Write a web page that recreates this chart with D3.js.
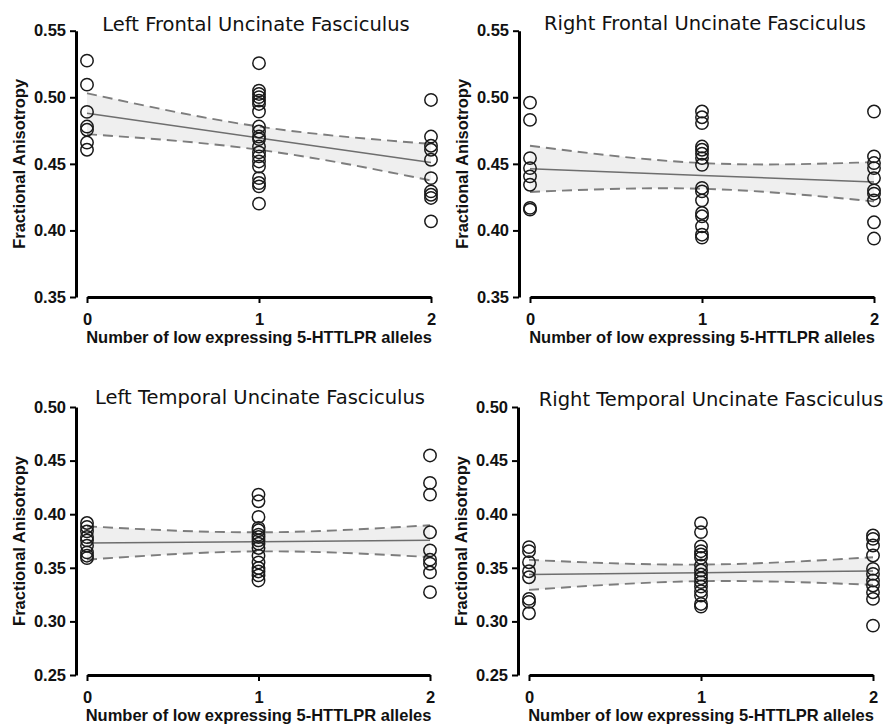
<!DOCTYPE html>
<html>
<head>
<meta charset="utf-8">
<script src="https://cdn.jsdelivr.net/npm/d3@7"></script>
<style>
  body { margin: 0; background: #fff; }
  svg { display: block; }
  .axis text, .axis-label { font-family: "Liberation Sans", Arial, sans-serif; font-weight: bold; fill: #111; }
  .panel-title { font-family: "DejaVu Sans", Verdana, sans-serif; fill: #111; }
</style>
</head>
<body>
<svg id="chart" width="888" height="726"></svg>
<script>
// values: FA per subject, grouped by number of low expressing alleles
const alleles = [0, 1, 2];
const frontalTicks = [0.35, 0.40, 0.45, 0.50, 0.55];
const temporalTicks = [0.25, 0.30, 0.35, 0.40, 0.45, 0.50];
const titles = [
  'Left Frontal Uncinate Fasciculus',
  'Right Frontal Uncinate Fasciculus',
  'Left Temporal Uncinate Fasciculus',
  'Right Temporal Uncinate Fasciculus'
];
const xLabel = 'Number of low expressing 5-HTTLPR alleles';
const yLabel = 'Fractional Anisotropy';

const leftFrontalFA = [
  [0.5275, 0.5095, 0.489, 0.478, 0.4756, 0.466, 0.4606],
  [0.5256, 0.505, 0.5025, 0.5001, 0.4975, 0.495, 0.4893, 0.478, 0.4743, 0.4705,
   0.4686, 0.463, 0.4586, 0.4556, 0.4518, 0.448, 0.4393, 0.4356, 0.4331, 0.4201],
  [0.498, 0.4705, 0.4636, 0.4606, 0.4531, 0.4393, 0.4293, 0.4268, 0.4244, 0.4068]
];
const leftFrontalFit = [0.488, 0.4695, 0.451];
const leftFrontalUpper = [0.503, 0.478, 0.465];
const leftFrontalLower = [0.4723, 0.4606, 0.4375];

const rightFrontalFA = [
  [0.496, 0.483, 0.4543, 0.4468, 0.4406, 0.4343, 0.4169, 0.4156],
  [0.4893, 0.485, 0.4806, 0.463, 0.4606, 0.4576, 0.4543, 0.4493, 0.4319, 0.4293,
   0.4226, 0.4131, 0.4106, 0.4031, 0.3968, 0.3946],
  [0.4893, 0.4556, 0.4506, 0.4468, 0.4393, 0.4301, 0.4276, 0.4226, 0.4061, 0.3939]
];
const rightFrontalFit = [0.4463, 0.4413, 0.4364];
const rightFrontalUpper = [0.4636, 0.4506, 0.4513];
const rightFrontalLower = [0.4289, 0.4313, 0.4218];

const leftTemporalFA = [
  [0.3918, 0.3881, 0.384, 0.3787, 0.3756, 0.3706, 0.3644, 0.3613, 0.3591],
  [0.4183, 0.4121, 0.3975, 0.3872, 0.385, 0.3809, 0.3787, 0.3756, 0.3725, 0.3685,
   0.3613, 0.355, 0.3498, 0.3466, 0.3429, 0.3382],
  [0.4548, 0.4292, 0.4183, 0.3831, 0.3663, 0.3576, 0.3538, 0.3457, 0.3273]
];
const leftTemporalFit = [0.3731, 0.3744, 0.3756];
const leftTemporalUpper = [0.3887, 0.3831, 0.3897];
const leftTemporalLower = [0.3576, 0.3653, 0.360];

const rightTemporalFA = [
  [0.3693, 0.3655, 0.3552, 0.3468, 0.3412, 0.321, 0.3182, 0.3076],
  [0.3917, 0.3833, 0.3699, 0.3655, 0.3624, 0.3593, 0.3521, 0.3475, 0.3437, 0.3403,
   0.3366, 0.3325, 0.3282, 0.3241, 0.3163, 0.3138],
  [0.3801, 0.377, 0.3708, 0.3615, 0.349, 0.3443, 0.3381, 0.3335, 0.3272, 0.321, 0.2961]
];
const rightTemporalFit = [0.3437, 0.3454, 0.3471];
const rightTemporalUpper = [0.3574, 0.353, 0.3599];
const rightTemporalLower = [0.3294, 0.3375, 0.3341];

// layout of the 2x2 grid
const panels = [
  { title: titles[0], fa: leftFrontalFA, fit: leftFrontalFit, up: leftFrontalUpper, lo: leftFrontalLower,
    ticks: frontalTicks, axisX: 76, xr: [87, 431], yr: [297, 30.7], titleX: 256, titleY: 31 },
  { title: titles[1], fa: rightFrontalFA, fit: rightFrontalFit, up: rightFrontalUpper, lo: rightFrontalLower,
    ticks: frontalTicks, axisX: 519, xr: [530, 874], yr: [297, 30.7], titleX: 705, titleY: 30 },
  { title: titles[2], fa: leftTemporalFA, fit: leftTemporalFit, up: leftTemporalUpper, lo: leftTemporalLower,
    ticks: temporalTicks, axisX: 76, xr: [87, 430], yr: [675, 407], titleX: 260, titleY: 404 },
  { title: titles[3], fa: rightTemporalFA, fit: rightTemporalFit, up: rightTemporalUpper, lo: rightTemporalLower,
    ticks: temporalTicks, axisX: 518, xr: [529, 873], yr: [675, 407], titleX: 711, titleY: 406 }
];

const svg = d3.select('#chart');

panels.forEach(p => {
  const x = d3.scaleLinear().domain([0, 2]).range(p.xr);
  const y = d3.scaleLinear().domain(d3.extent(p.ticks)).range(p.yr);
  const g = svg.append('g');

  // confidence band
  const band = d3.area()
    .x((d, i) => x(alleles[i]))
    .y0((d, i) => y(p.lo[i]))
    .y1(d => y(d))
    .curve(d3.curveNatural);
  g.append('path').datum(p.up).attr('d', band).attr('fill', '#efefef');

  const ci = d3.line().x((d, i) => x(alleles[i])).y(d => y(d)).curve(d3.curveNatural);
  [p.up, p.lo].forEach(arr => {
    g.append('path').datum(arr).attr('d', ci)
      .attr('fill', 'none').attr('stroke', '#7d7d7d')
      .attr('stroke-width', 1.9).attr('stroke-dasharray', '10,6');
  });

  g.append('path').datum(p.fit)
    .attr('d', d3.line().x((d, i) => x(alleles[i])).y(d => y(d)))
    .attr('fill', 'none').attr('stroke', '#6e6e6e').attr('stroke-width', 1.5);

  // subjects
  const pts = p.fa.flatMap((vals, i) => vals.map(v => ({ a: alleles[i], v })));
  g.selectAll('circle.pt')
    .data(pts)
    .join('circle')
      .attr('class', 'pt')
      .attr('cx', d => x(d.a))
      .attr('cy', d => y(d.v))
      .attr('r', 6.2)
      .attr('fill', 'none')
      .attr('stroke', '#1a1a1a')
      .attr('stroke-width', 1.5);

  // axes
  const yAxis = g.append('g')
    .attr('class', 'axis')
    .attr('transform', `translate(${p.axisX},0)`)
    .call(d3.axisLeft(y).tickValues(p.ticks).tickFormat(d3.format('.2f'))
      .tickSize(6).tickSizeOuter(0).tickPadding(4));
  const xAxis = g.append('g')
    .attr('class', 'axis')
    .attr('transform', `translate(0,${p.yr[0]})`)
    .call(d3.axisBottom(x).tickValues(alleles).tickFormat(d3.format('d'))
      .tickSize(6).tickSizeOuter(0).tickPadding(10));
  [yAxis, xAxis].forEach(ax => {
    ax.select('.domain').attr('stroke', '#000').attr('stroke-width', 3);
    ax.selectAll('.tick line').attr('stroke', '#000').attr('stroke-width', 2);
    ax.selectAll('.tick text').style('font-size', '16.5px');
  });

  // labels
  g.append('text')
    .attr('class', 'panel-title')
    .attr('x', p.titleX).attr('y', p.titleY)
    .attr('text-anchor', 'middle')
    .style('font-size', '19.5px')
    .text(p.title);

  g.append('text')
    .attr('class', 'axis-label')
    .attr('x', (p.xr[0] + p.xr[1]) / 2).attr('y', p.yr[0] + 46)
    .attr('text-anchor', 'middle')
    .style('font-size', '16.5px')
    .text(xLabel);

  g.append('text')
    .attr('class', 'axis-label')
    .attr('transform', `translate(${p.axisX - 51},${(p.yr[0] + p.yr[1]) / 2}) rotate(-90)`)
    .attr('text-anchor', 'middle')
    .style('font-size', '16.5px')
    .text(yLabel);
});
</script>
</body>
</html>
